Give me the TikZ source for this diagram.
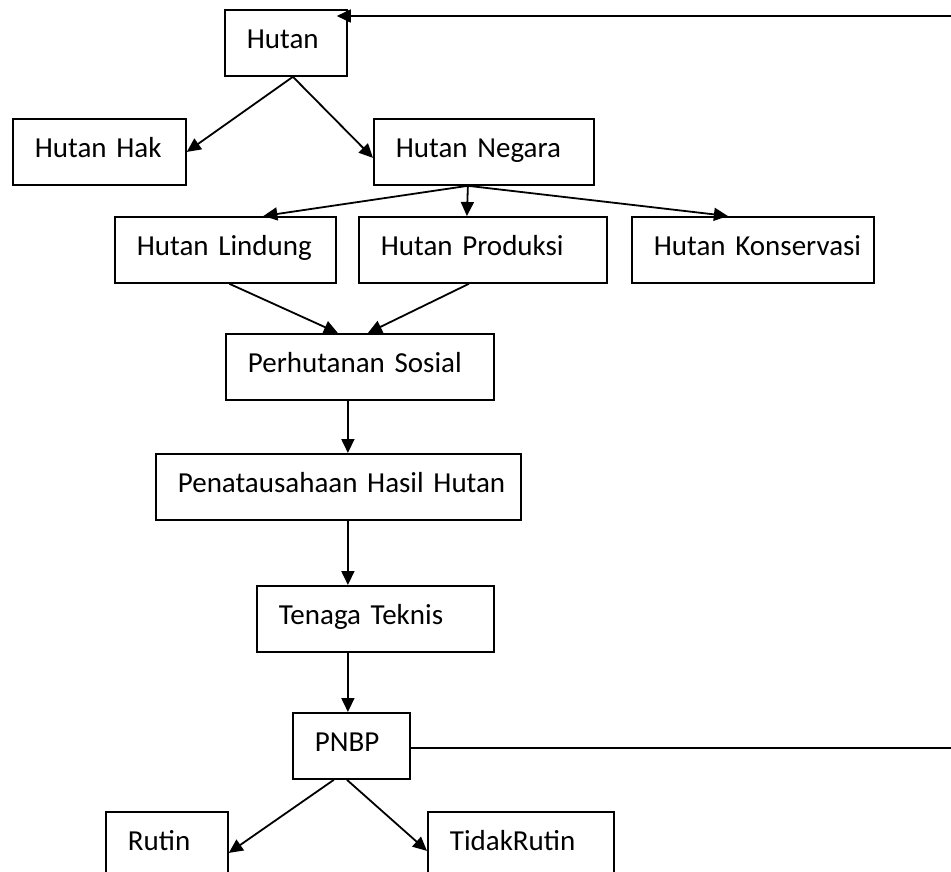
\documentclass[tikz,border=0pt]{standalone}
\usepackage{fontspec}
\setmainfont{Carlito}
\usetikzlibrary{arrows.meta}
\tikzset{
  box/.style={draw, line width=1.8pt, rectangle, inner xsep=0pt, inner ysep=0pt,
    minimum height=66pt, text width=#1, align=left, anchor=north west,
    font=\fontsize{29}{35}\selectfont, text height=20pt, text depth=8pt,
    execute at begin node={\noindent\hspace*{22pt}}},
  arr/.style={line width=1.8pt, -{Triangle[length=14pt,width=13pt]}},
  plain/.style={line width=1.8pt}
}
\begin{document}
\begin{tikzpicture}[x=1pt,y=-1pt]
\useasboundingbox (0,0) rectangle (951,872);
\clip (0,0) rectangle (951,872);
\node[box=122] (hutan) at (224,9) {Hutan};
\node[box=173] (hak) at (12,118) {Hutan Hak};
\node[box=220] (negara) at (373,118) {Hutan Negara};
\node[box=221] (lindung) at (114,216) {Hutan Lindung};
\node[box=248] (produksi) at (358,216) {Hutan Produksi};
\node[box=242] (konservasi) at (631,216) {Hutan Konservasi};
\node[box=268] (sosial) at (225,333) {Perhutanan Sosial};
\node[box=365] (penata) at (155,453) {Penatausahaan Hasil Hutan};
\node[box=237] (tenaga) at (256,585) {Tenaga Teknis};
\node[box=117] (pnbp) at (292,712) {PNBP};
\node[box=122] (rutin) at (105,811) {Rutin};
\node[box=186] (tidak) at (427,811) {TidakRutin};
\coordinate (topright) at (951,16);
\coordinate (midright) at (951,748);

\draw[arr] ([xshift=7pt]hutan.south) -- (hak.east);
\draw[arr] ([xshift=7pt]hutan.south) -- ([yshift=-6pt]negara.west);

\draw[arr] ([xshift=-16pt]negara.south) -- ([xshift=38pt]lindung.north);
\draw[arr] ([xshift=-16pt]negara.south) -- ([xshift=-16pt]produksi.north);
\draw[arr] ([xshift=-16pt]negara.south) -- ([xshift=-25pt]konservasi.north);

\draw[arr] ([xshift=4pt]lindung.south) -- ([xshift=-22pt]sosial.north);
\draw[arr] ([xshift=-14pt]produksi.south) -- ([xshift=8pt]sosial.north);

\draw[arr] ([xshift=-12pt]sosial.south) coordinate (s1) -- (s1 |- penata.north);
\draw[arr] ([xshift=9.5pt]penata.south) coordinate (s2) -- (s2 |- tenaga.north);
\draw[arr] ([xshift=-27.5pt]tenaga.south) coordinate (s3) -- (s3 |- pnbp.north);

\draw[arr] ([xshift=-17.5pt]pnbp.south) -- ([yshift=-8pt]rutin.east);
\draw[arr] ([xshift=-4.5pt]pnbp.south) -- ([yshift=-6pt]tidak.west);

\draw[plain] (pnbp.east |- midright) -- (midright);
\draw[arr] (topright) -- ([xshift=-11pt,yshift=-7pt]hutan.north east);
\end{tikzpicture}
\end{document}
